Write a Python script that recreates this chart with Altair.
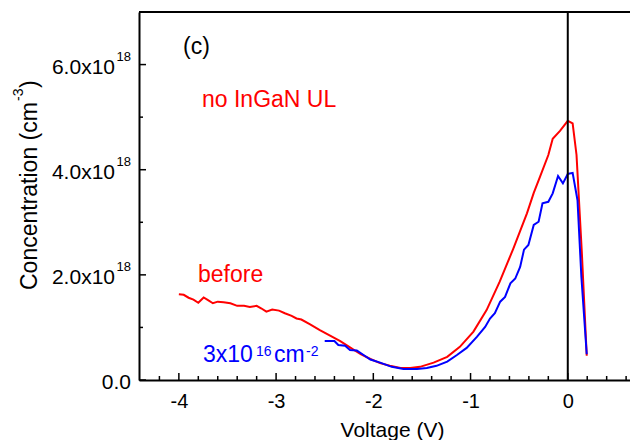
import altair as alt
import pandas as pd

# ---------------- data (concentration in units of 1e18 cm^-3) ----------------
red_voltage = [-4.00, -3.95, -3.90, -3.85, -3.80, -3.745, -3.70, -3.65, -3.60, -3.54,
               -3.47, -3.40, -3.33, -3.27, -3.20, -3.15, -3.10, -3.04, -2.97, -2.91,
               -2.84, -2.79, -2.74, -2.65, -2.55, -2.44, -2.34, -2.24, -2.13, -2.03,
               -1.93, -1.83, -1.72, -1.62, -1.52, -1.38, -1.24, -1.11, -0.97, -0.835,
               -0.70, -0.56, -0.42, -0.35, -0.285, -0.20, -0.155, -0.08, 0.00, 0.05,
               0.09, 0.145, 0.195]
red_conc = [1.63, 1.62, 1.565, 1.53, 1.47, 1.57, 1.52, 1.46, 1.49, 1.48,
            1.46, 1.41, 1.41, 1.39, 1.41, 1.36, 1.30, 1.34, 1.32, 1.27,
            1.22, 1.17, 1.15, 1.06, 0.95, 0.84, 0.74, 0.62, 0.49, 0.40,
            0.32, 0.27, 0.23, 0.23, 0.25, 0.33, 0.44, 0.63, 0.92, 1.33,
            1.87, 2.50, 3.17, 3.56, 3.87, 4.28, 4.59, 4.74, 4.93, 4.88,
            4.28, 2.41, 0.46]

blue_voltage = [-2.50, -2.40, -2.36, -2.29, -2.24, -2.17, -2.10, -2.03, -1.93, -1.81,
                -1.69, -1.55, -1.45, -1.35, -1.24, -1.14, -1.04, -0.935, -0.85, -0.80,
                -0.75, -0.695, -0.645, -0.59, -0.54, -0.49, -0.45, -0.405, -0.35, -0.30,
                -0.26, -0.20, -0.155, -0.10, -0.05, 0.00, 0.05, 0.10, 0.14, 0.195]
blue_conc = [0.74, 0.74, 0.665, 0.65, 0.57, 0.56, 0.475, 0.39, 0.33, 0.25,
             0.21, 0.21, 0.23, 0.27, 0.35, 0.475, 0.61, 0.82, 1.01, 1.17,
             1.27, 1.49, 1.58, 1.84, 1.93, 2.15, 2.48, 2.57, 2.95, 3.01,
             3.36, 3.39, 3.55, 3.88, 3.74, 3.92, 3.94, 3.42, 1.96, 0.49]

x_major_ticks = [-4, -3, -2, -1, 0]
x_minor_ticks = [-4.2, -3.8, -3.6, -3.4, -3.2, -2.8, -2.6, -2.4, -2.2, -1.8, -1.6,
                 -1.4, -1.2, -0.8, -0.6, -0.4, -0.2, 0.2, 0.4, 0.6]
y_major_ticks = [0, 2, 4, 6]
y_minor_ticks = [1, 3, 5]
y_label_mantissa = ["2.0x10", "4.0x10", "6.0x10"]
y_label_values = [2, 4, 6]
y_label_exponent = ["18", "18", "18"]

FONT = "Liberation Sans"
W, H = 491, 368

xs = alt.Scale(domain=[-4.41, 0.64], nice=False, zero=False)
ys = alt.Scale(domain=[0, 7], nice=False, zero=False)
xaxis = alt.Axis(values=x_major_ticks, labelExpr="'' + datum.value", labelFont=FONT,
                 labelFontSize=20, labelColor="black", labelBaseline="alphabetic",
                 labelPadding=27, ticks=False, tickSize=0, grid=False,
                 domainColor="black", domainWidth=2, title="Voltage (V)",
                 titleFont=FONT, titleFontSize=21, titleFontWeight="normal",
                 titleColor="black", titleX=253, titleY=56, titleBaseline="alphabetic")
yaxis = alt.Axis(values=y_major_ticks, labels=False, ticks=False, tickSize=0, grid=False,
                 domainColor="black", domainWidth=2, title=None)


def X(f="v"):
    return alt.X(f"{f}:Q", scale=xs, axis=xaxis)


def Y(f="c"):
    return alt.Y(f"{f}:Q", scale=ys, axis=yaxis)


red_df = pd.DataFrame({"v": red_voltage, "c": red_conc})
blue_df = pd.DataFrame({"v": blue_voltage, "c": blue_conc})

red_line = alt.Chart(red_df).mark_line(color="#ff0000", strokeWidth=2).encode(x=X(), y=Y())
blue_line = alt.Chart(blue_df).mark_line(color="#0000ff", strokeWidth=2).encode(x=X(), y=Y())

zero_line = alt.Chart(pd.DataFrame({"v": [0]})).mark_rule(color="black", strokeWidth=2).encode(x=X())

top_border = alt.Chart(pd.DataFrame({"v": [0]})).mark_rule(color="black", strokeWidth=2).encode(
    x=alt.value(0), x2=alt.value(W), y=alt.value(0))

xmaj = alt.Chart(pd.DataFrame({"v": x_major_ticks})).mark_rule(color="black", strokeWidth=1.5).encode(
    x=X(), y=alt.value(H), y2=alt.value(H - 7))
xmin = alt.Chart(pd.DataFrame({"v": x_minor_ticks})).mark_rule(color="black", strokeWidth=1.5).encode(
    x=X(), y=alt.value(H), y2=alt.value(H - 4))
ymaj = alt.Chart(pd.DataFrame({"c": y_major_ticks})).mark_rule(color="black", strokeWidth=1.5).encode(
    y=Y(), x=alt.value(0), x2=alt.value(7))
ymin = alt.Chart(pd.DataFrame({"c": y_minor_ticks})).mark_rule(color="black", strokeWidth=1.5).encode(
    y=Y(), x=alt.value(0), x2=alt.value(4))

ylab_df = pd.DataFrame({"c": y_label_values, "m": y_label_mantissa, "e": y_label_exponent})
ylab_main = alt.Chart(ylab_df).mark_text(font=FONT, fontSize=21, align="right", baseline="alphabetic",
                                         dy=9, color="black").encode(y=Y(), x=alt.value(-24), text="m:N")
ylab_exp = alt.Chart(ylab_df).mark_text(font=FONT, fontSize=13, align="right", baseline="alphabetic",
                                        dy=-3.5, color="black").encode(y=Y(), x=alt.value(-8), text="e:N")
ylab_zero = alt.Chart(pd.DataFrame({"c": [0], "m": ["0.0"]})).mark_text(
    font=FONT, fontSize=21, align="right", baseline="alphabetic", dy=9, color="black").encode(
    y=Y(), x=alt.value(-8), text="m:N")


def txt(s, x, y, size, color="black", angle=0):
    kw = dict(font=FONT, fontSize=size, align="left", baseline="alphabetic", color=color)
    if angle:
        kw["angle"] = angle
    return alt.Chart(pd.DataFrame({"t": [s]})).mark_text(**kw).encode(
        x=alt.value(x), y=alt.value(y), text="t:N")


# y axis title: Concentration (cm^-3)
ytitle = [
    txt("Concentration (cm", -102, 278, 23, angle=270),
    txt("-3", -116, 89, 14, angle=270),
    txt(")", -102, 76, 23, angle=270),
]

annotations = [
    txt("(c)", 44, 42, 23),
    txt("no InGaN UL", 63, 95, 23, color="#ff0000"),
    txt("before", 59, 270, 23, color="#ff0000"),
    txt("3x10", 64, 350, 23, color="#0000ff"),
    txt("16", 117, 344, 14, color="#0000ff"),
    txt("cm", 135, 350, 23, color="#0000ff"),
    txt("-2", 167, 344, 14, color="#0000ff"),
]

chart = alt.layer(
    red_line, blue_line, zero_line, top_border, xmaj, xmin, ymaj, ymin,
    ylab_main, ylab_exp, ylab_zero, *ytitle, *annotations
).properties(
    width=W, height=H,
    padding={"left": 131, "top": 4, "right": 0, "bottom": 60},
    autosize=alt.AutoSizeParams(type="none"),
    background="white",
).configure_view(stroke=None)

chart.save("out.html", embed_options={"renderer": "svg", "actions": False})
